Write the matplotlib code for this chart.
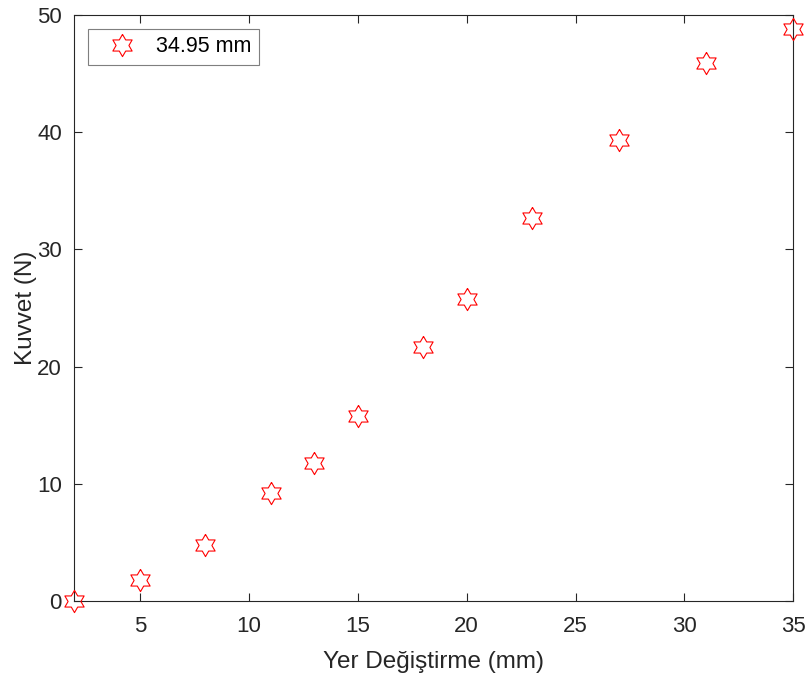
import matplotlib
matplotlib.use('Agg')

import matplotlib.pyplot as plt
import numpy as np

# data
displacement = [2, 5, 8, 11, 13, 15, 18, 20, 23, 27, 31, 35]
force = [0.0, 1.8, 4.8, 9.2, 11.8, 15.8, 21.65, 25.75, 32.65, 39.3, 45.9, 48.8]
series_label = '34.95 mm'

x_ticks = [5, 10, 15, 20, 25, 30, 35]
y_ticks = [0, 10, 20, 30, 40, 50]

plt.rcParams['font.family'] = ['Liberation Sans', 'DejaVu Sans']
dark = '#262626'

# hexagram marker (MATLAB style), closed path
n = 6
ang = np.pi / 2 + np.arange(2 * n + 1) * np.pi / n
rad = np.where(np.arange(2 * n + 1) % 2 == 0, 1.0, 1 / np.sqrt(3))
hexagram = list(zip(rad * np.cos(ang), rad * np.sin(ang)))

fig = plt.figure(figsize=(8.06, 6.73), dpi=100)
ax = fig.add_axes([0.0924, 0.107, 0.892, 0.871])

ax.plot(displacement, force, linestyle='none', marker=hexagram, markersize=16,
        markerfacecolor='none', markeredgecolor='#ff0000', markeredgewidth=0.8,
        label=series_label, clip_on=False, zorder=5)

ax.set_xlim(2, 35)
ax.set_ylim(0, 50)
ax.set_xticks(x_ticks)
ax.set_yticks(y_ticks)
ax.tick_params(direction='in', top=True, right=True, length=6, width=0.8,
               colors=dark, labelsize=16)
ax.tick_params(axis='x', pad=11)
ax.tick_params(axis='y', pad=9)
for s in ax.spines.values():
    s.set_color(dark)
    s.set_linewidth(0.8)

ax.set_xlabel('Yer Değiştirme (mm)', fontsize=17.5, color=dark, labelpad=10)
ax.set_ylabel('Kuvvet (N)', fontsize=17.5, color=dark, labelpad=0)

leg = ax.legend(loc='upper left', fontsize=15.5, fancybox=False, framealpha=1,
                edgecolor='#7f7f7f', borderaxespad=0.65, handlelength=2.4,
                handletextpad=0.4, borderpad=0.35)
leg.get_frame().set_linewidth(0.8)

fig.savefig('out.png', dpi=100)
